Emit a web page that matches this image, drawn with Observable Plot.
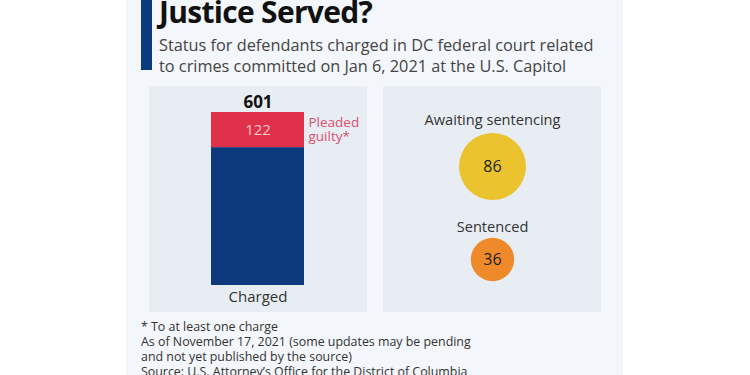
<!DOCTYPE html>
<html>
<head>
<meta charset="utf-8">
<script src="https://cdn.jsdelivr.net/npm/d3@7"></script>
<script src="https://cdn.jsdelivr.net/npm/@observablehq/plot@0.6"></script>
<style>
  html, body { margin: 0; padding: 0; background: #ffffff; width: 750px; height: 375px; overflow: hidden; font-family: "Open Sans", sans-serif; }
  #card { position: absolute; left: 126px; top: 0; width: 497px; height: 375px; background: #f3f6fa; }
  #accent { position: absolute; left: 141px; top: 0; width: 11px; height: 70px; background: #0c3a7e; }
  #title { position: absolute; left: 159px; top: -3px; margin: 0; font-size: 30px; font-weight: 700; letter-spacing: -0.7px; color: #111; white-space: nowrap; line-height: 30px; }
  #subtitle { position: absolute; left: 159px; top: 35px; margin: 0; font-size: 16.3px; color: #444; line-height: 21px; white-space: nowrap; }
  .panel { position: absolute; top: 86px; height: 226px; width: 218px; background: #e8edf4; }
  #p1 { left: 149px; }
  #p2 { left: 383px; }
  #footer { position: absolute; left: 141px; top: 319px; font-size: 12.4px; color: #333; line-height: 15px; white-space: nowrap; }
</style>
</head>
<body>
<div id="card"></div>
<div id="accent"></div>
<div id="title">Justice Served?</div>
<div id="subtitle">Status for defendants charged in DC federal court related<br>to crimes committed on Jan 6, 2021 at the U.S. Capitol</div>
<div class="panel" id="p1"></div>
<div class="panel" id="p2"></div>
<div id="footer">* To at least one charge<br>As of November 17, 2021 (some updates may be pending<br>and not yet published by the source)<br>Source: U.S. Attorney’s Office for the District of Columbia</div>
<script>
// Data
const barCategory = ["Charged"];
const chargedTotal = [601];
const pleadedGuilty = [122];
const pleadedLabel = "Pleaded\nguilty*";
const circleCategories = ["Awaiting sentencing", "Sentenced"];
const circleValues = [86, 36];

const barData = barCategory.map((c, i) => ({category: c, total: chargedTotal[i], pleaded: pleadedGuilty[i]}));
const circleData = circleCategories.map((c, i) => ({category: c, value: circleValues[i]}));

const font = "Open Sans, sans-serif";

const barChart = Plot.plot({
  width: 218,
  height: 226,
  marginTop: 26,
  marginBottom: 27,
  marginLeft: 62,
  marginRight: 63,
  style: {background: "transparent", fontFamily: font, overflow: "visible"},
  x: {type: "band", domain: barCategory, padding: 0, label: null},
  y: {domain: [0, 601], axis: null},
  marks: [
    Plot.rectY(barData, {x: "category", y1: 0, y2: d => d.total - d.pleaded, fill: "#0c3a7c"}),
    Plot.rectY(barData, {x: "category", y1: d => d.total - d.pleaded, y2: "total", fill: "#e0304a"}),
    Plot.text(barData, {x: "category", y: "total", text: d => String(d.total), lineAnchor: "bottom", dy: -5, fontSize: 17, fontWeight: 700, fill: "#111"}),
    Plot.text(barData, {x: "category", y: d => d.total - d.pleaded / 2, text: d => String(d.pleaded), lineAnchor: "middle", fontSize: 15, fill: "#f7c9ce"}),
    Plot.text(barData, {y: "total", text: () => pleadedLabel, frameAnchor: "right", textAnchor: "start", lineAnchor: "top", dx: 4, dy: 5, lineHeight: 1, fontSize: 13.5, fill: "#d9506b"}),
    Plot.axisX({tickSize: 0, tickPadding: 6, fontSize: 15, fill: "#333", label: null})
  ]
});
document.getElementById("p1").appendChild(barChart);

const dotChart = Plot.plot({
  width: 218,
  height: 226,
  marginTop: 80,
  marginBottom: 53,
  marginLeft: 0,
  marginRight: 0,
  style: {background: "transparent", fontFamily: font, overflow: "visible"},
  y: {type: "point", domain: circleCategories, padding: 0, axis: null},
  r: {domain: [0, 86], range: [0, 33.5]},
  marks: [
    Plot.dot(circleData, {y: "category", r: "value", fill: d => d.category === circleCategories[0] ? "#eac32e" : "#ef8a2b", stroke: "none"}),
    Plot.text(circleData, {y: "category", text: d => String(d.value), lineAnchor: "middle", fontSize: 16, fill: "#222"}),
    Plot.text(circleData.filter(d => d.category === circleCategories[0]), {y: "category", text: "category", lineAnchor: "bottom", dy: -42, fontSize: 14.6, fill: "#333"}),
    Plot.text(circleData.filter(d => d.category === circleCategories[1]), {y: "category", text: "category", lineAnchor: "bottom", dy: -28, fontSize: 14.6, fill: "#333"})
  ]
});
document.getElementById("p2").appendChild(dotChart);
</script>
</body>
</html>
